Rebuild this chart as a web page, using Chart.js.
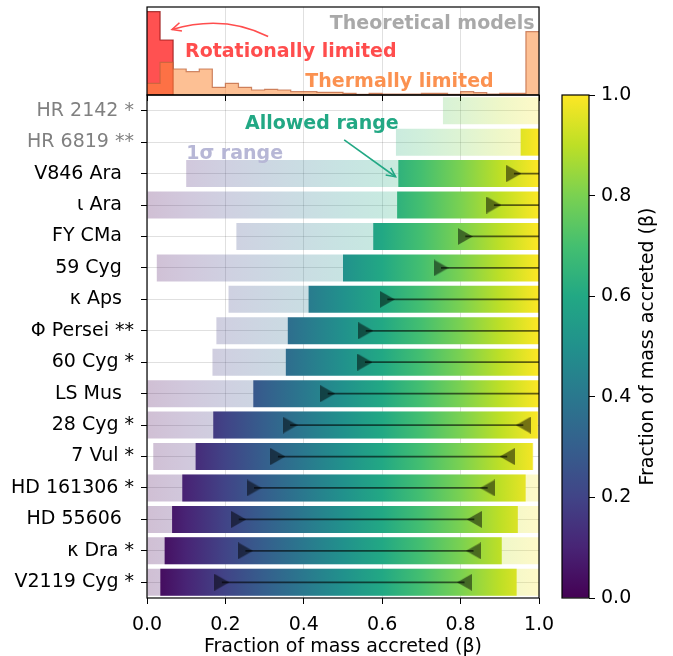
<!DOCTYPE html>
<html>
<head>
<meta charset="utf-8">
<script src="https://cdn.jsdelivr.net/npm/chart.js@4/dist/chart.umd.min.js"></script>
<style>
  body { margin: 0; background: #fff; width: 673px; height: 656px; position: relative; overflow: hidden; }
  canvas { position: absolute; }
</style>
</head>
<body>
<canvas id="histChart" width="560" height="104" style="left:0px;top:0px"></canvas>
<canvas id="rangeChart" width="570" height="587" style="left:0px;top:71px"></canvas>
<canvas id="colorbar" width="133" height="545" style="left:540px;top:75px"></canvas>
<script>
// Theoretical models: 30 equal bins of beta between 0 and 1
const binCount = 30;
const thermalCounts = [11.7, 32.7, 26, 23.3, 26, 7.7, 11.7, 7.7, 5, 5.7, 5, 3.3, 3.3, 2.7, 2.7,
                       1.7, 0.7, 1.7, 1, 1, 1, 1.7, 1.7, 0.7, 3.3, 2.3, 1, 1.7, 1.7, 63.3];
const rotationalCounts = [83.3, 55];

// Stars, top to bottom
const stars = ['HR 2142 *', 'HR 6819 **', 'V846 Ara  ', '\u03b9 Ara  ', 'FY CMa  ', '59 Cyg  ',
               '\u03ba Aps  ', '\u03a6 Persei **', '60 Cyg *', 'LS Mus  ', '28 Cyg *', '7 Vul *',
               'HD 161306 *', 'HD 55606  ', '\u03ba Dra *', 'V2119 Cyg *'];
// 1 sigma range of beta
const sigmaLow  = [0.755, 0.635, 0.100, 0.0, 0.228, 0.025, 0.208, 0.177, 0.167, 0.0, 0.0, 0.016, 0.0, 0.0, 0.0, 0.0];
const sigmaHigh = [1.0, 0.953, 0.641, 0.638, 0.577, 0.500, 0.412, 0.359, 0.354, 0.271, 1.0, 0.986, 1.0, 1.0, 1.0, 1.0];
// allowed range of beta
const allowedLow  = [null, 0.953, 0.641, 0.638, 0.577, 0.500, 0.412, 0.359, 0.354, 0.271, 0.169, 0.124, 0.090, 0.064, 0.045, 0.034];
const allowedHigh = [null, 1.0, 1.0, 1.0, 1.0, 1.0, 1.0, 1.0, 1.0, 1.0, 0.997, 0.984, 0.966, 0.946, 0.905, 0.943];
// best lower / upper limits (null upper = open ended)
const betaLow  = [null, null, 0.936, 0.885, 0.812, 0.750, 0.613, 0.558, 0.556, 0.461, 0.365, 0.334, 0.273, 0.234, 0.251, 0.191];
const betaHigh = [null, null, null, null, null, null, null, null, null, null, 0.960, 0.919, 0.869, 0.835, 0.833, 0.810];

const xTicks = [0, 0.2, 0.4, 0.6, 0.8, 1.0];

const viridis = [[68, 1, 84], [72, 36, 117], [65, 68, 135], [53, 95, 141], [42, 120, 142], [33, 145, 140],
                 [34, 168, 132], [68, 191, 112], [122, 209, 81], [189, 223, 38], [253, 231, 37]];

const FONT = '"DejaVu Sans", sans-serif';
const tickFont = { family: FONT, size: 19 };
const gridColor = 'rgba(0,0,0,0.12)';

function viridisGradient(ctx, scale, alpha, vertical) {
  const p0 = scale.getPixelForValue(0), p1 = scale.getPixelForValue(1);
  const g = vertical ? ctx.createLinearGradient(0, p0, 0, p1) : ctx.createLinearGradient(p0, 0, p1, 0);
  viridis.forEach((c, k) => {
    g.addColorStop(k / (viridis.length - 1), `rgba(${c[0]},${c[1]},${c[2]},${alpha})`);
  });
  return g;
}

// black box round the plot area
const frame = {
  id: 'frame',
  afterDraw(chart) {
    const { ctx, chartArea: a } = chart;
    ctx.save();
    ctx.strokeStyle = '#000';
    ctx.lineWidth = 1.2;
    ctx.strokeRect(a.left, a.top, a.right - a.left, a.bottom - a.top);
    ctx.restore();
  }
};

function drawArrowHead(ctx, x, y, angle, size) {
  ctx.beginPath();
  ctx.moveTo(x - size * Math.cos(angle - 0.45), y - size * Math.sin(angle - 0.45));
  ctx.lineTo(x, y);
  ctx.lineTo(x - size * Math.cos(angle + 0.45), y - size * Math.sin(angle + 0.45));
  ctx.stroke();
}

// text labels and arrows placed in data coordinates
function notes(items) {
  return {
    id: 'notes',
    afterDatasetsDraw(chart) {
      const { ctx, scales } = chart;
      const px = v => scales.x.getPixelForValue(v);
      const py = v => scales.y.getPixelForValue(v);
      ctx.save();
      items.forEach(n => {
        ctx.strokeStyle = n.color;
        ctx.fillStyle = n.color;
        ctx.lineWidth = 1.6;
        if (n.text) {
          ctx.font = `bold 19px ${FONT}`;
          ctx.textAlign = n.align || 'left';
          ctx.textBaseline = 'alphabetic';
          ctx.fillText(n.text, px(n.x), py(n.y));
        } else {
          const x0 = px(n.from[0]), y0 = py(n.from[1]);
          const x1 = px(n.to[0]), y1 = py(n.to[1]);
          ctx.beginPath();
          ctx.moveTo(x0, y0);
          let ax = x0, ay = y0;
          if (n.via) {
            ax = px(n.via[0]); ay = py(n.via[1]);
            ctx.quadraticCurveTo(ax, ay, x1, y1);
          } else {
            ctx.lineTo(x1, y1);
          }
          ctx.stroke();
          drawArrowHead(ctx, x1, y1, Math.atan2(y1 - ay, x1 - ax), 10);
        }
      });
      ctx.restore();
    }
  };
}

// ---- top panel: histograms drawn as stepped outlines ----
function stepPoints(counts, closeAt) {
  const pts = counts.map((c, i) => ({ x: i / binCount, y: c }));
  pts.push({ x: counts.length / binCount, y: closeAt === undefined ? counts[counts.length - 1] : closeAt });
  return pts;
}

new Chart(document.getElementById('histChart'), {
  type: 'line',
  data: {
    datasets: [{
      label: 'Thermally limited',
      data: stepPoints(thermalCounts),
      stepped: true,
      fill: 'origin',
      backgroundColor: 'rgba(252,140,60,0.55)',
      borderColor: 'rgba(190,100,60,0.75)',
      borderWidth: 1.2,
      pointRadius: 0,
      order: 0
    }, {
      label: 'Rotationally limited',
      data: stepPoints(rotationalCounts, 0),
      stepped: true,
      fill: 'origin',
      backgroundColor: 'rgba(255,50,50,0.85)',
      borderColor: 'rgba(150,20,20,0.8)',
      borderWidth: 1.2,
      pointRadius: 0,
      order: 1
    }]
  },
  options: {
    responsive: false,
    animation: false,
    layout: { padding: { left: 147, right: 21, top: 7, bottom: 0 } },
    scales: {
      x: {
        type: 'linear', min: 0, max: 1,
        afterBuildTicks: s => { s.ticks = xTicks.map(v => ({ value: v })); },
        ticks: { display: false },
        grid: { color: gridColor, tickColor: '#000', tickLength: 6 },
        border: { display: false },
        afterFit: s => { s.height = 9; }
      },
      y: { display: false, min: 0, max: 88 }
    },
    plugins: { legend: { display: false }, tooltip: { enabled: false } }
  },
  plugins: [frame, notes([
    { text: 'Theoretical models', x: 0.9885, y: 66.5, color: '#a9a9a9', align: 'right' },
    { text: 'Rotationally limited', x: 0.097, y: 38.5, color: '#ff4d4d' },
    { text: 'Thermally limited', x: 0.404, y: 8.5, color: '#fb9150' },
    { from: [0.309, 58.5], via: [0.196, 81], to: [0.064, 65.5], color: '#ff4d4d' }
  ])]
});

// ---- main panel: beta ranges per star ----
function triangleMarker(dir) {
  const c = document.createElement('canvas');
  c.width = 15; c.height = 17;
  const g = c.getContext('2d');
  g.fillStyle = 'rgba(0,0,0,0.5)';
  g.beginPath();
  if (dir > 0) { g.moveTo(0, 0); g.lineTo(15, 8.5); g.lineTo(0, 17); }
  else { g.moveTo(15, 0); g.lineTo(0, 8.5); g.lineTo(15, 17); }
  g.closePath();
  g.fill();
  return c;
}
const markRight = triangleMarker(1);
const markLeft = triangleMarker(-1);

const limitSets = [];
stars.forEach((name, i) => {
  if (betaLow[i] === null) return;
  const closed = betaHigh[i] !== null;
  limitSets.push({
    type: 'line',
    indexAxis: 'y',
    order: 0,
    data: [{ x: betaLow[i], y: name }, { x: closed ? betaHigh[i] : 1, y: name }],
    borderColor: 'rgba(0,0,0,0.6)',
    borderWidth: 1.8,
    pointStyle: [markRight, markLeft],
    pointRadius: [8, closed ? 8 : 0],
    pointHoverRadius: [8, closed ? 8 : 0]
  });
});

const barCommon = { grouped: false, barPercentage: 0.86, categoryPercentage: 1, borderWidth: 0 };

new Chart(document.getElementById('rangeChart'), {
  type: 'bar',
  data: {
    labels: stars,
    datasets: [
      Object.assign({
        label: '1\u03c3 range',
        data: stars.map((_, i) => [sigmaLow[i], sigmaHigh[i]]),
        backgroundColor: c => c.chart.chartArea ? viridisGradient(c.chart.ctx, c.chart.scales.x, 0.25) : 'transparent',
        order: 2
      }, barCommon),
      Object.assign({
        label: 'Allowed range',
        data: stars.map((_, i) => allowedLow[i] === null ? null : [allowedLow[i], allowedHigh[i]]),
        backgroundColor: c => c.chart.chartArea ? viridisGradient(c.chart.ctx, c.chart.scales.x, 1) : 'transparent',
        order: 1
      }, barCommon),
      ...limitSets
    ]
  },
  options: {
    indexAxis: 'y',
    responsive: false,
    animation: false,
    layout: { padding: { left: 0, right: 31, top: 24, bottom: 0 } },
    scales: {
      x: {
        type: 'linear', min: 0, max: 1,
        afterBuildTicks: s => { s.ticks = xTicks.map(v => ({ value: v })); },
        ticks: { font: tickFont, color: '#000', padding: 10, callback: v => v.toFixed(1) },
        grid: { color: gridColor, tickColor: '#000', tickLength: 6 },
        border: { display: false },
        title: {
          display: true, text: 'Fraction of mass accreted (\u03b2)',
          font: tickFont, color: '#000', padding: { top: 2, bottom: 0 }
        },
        afterFit: s => { s.height = 60; }
      },
      y: {
        type: 'category', offset: true,
        ticks: { font: tickFont, padding: 7, autoSkip: false, color: c => c.index < 2 ? '#808080' : '#000' },
        grid: { offset: false, color: gridColor, tickColor: '#000', tickLength: 6 },
        border: { display: false },
        afterFit: s => { s.width = 147; }
      }
    },
    plugins: { legend: { display: false }, tooltip: { enabled: false } }
  },
  plugins: [frame, notes([
    { text: 'Allowed range', x: 0.250, y: 0.585, color: '#22a884' },
    { text: '1\u03c3 range', x: 0.100, y: 1.532, color: '#b7b7d6' },
    { from: [0.503, 0.93], to: [0.634, 2.1], color: '#22a884' }
  ])]
});

// ---- colour bar ----
const colorbarTitle = {
  id: 'colorbarTitle',
  afterDraw(chart) {
    const { ctx, chartArea: a } = chart;
    ctx.save();
    ctx.translate(a.right + 59, (a.top + a.bottom) / 2);
    ctx.rotate(-Math.PI / 2);
    ctx.font = `19px ${FONT}`;
    ctx.fillStyle = '#000';
    ctx.textAlign = 'center';
    ctx.textBaseline = 'middle';
    ctx.fillText('Fraction of mass accreted (\u03b2)', 0, 0);
    ctx.restore();
  }
};

new Chart(document.getElementById('colorbar'), {
  type: 'bar',
  data: {
    labels: [''],
    datasets: [{
      data: [[0, 1]],
      backgroundColor: c => c.chart.chartArea ? viridisGradient(c.chart.ctx, c.chart.scales.y, 1, true) : 'transparent',
      barPercentage: 1, categoryPercentage: 1, borderWidth: 0
    }]
  },
  options: {
    responsive: false,
    animation: false,
    layout: { padding: { left: 22, right: 0, top: 20, bottom: 22 } },
    scales: {
      x: { display: false },
      y: {
        position: 'right', min: 0, max: 1,
        afterBuildTicks: s => { s.ticks = xTicks.map(v => ({ value: v })); },
        ticks: { font: tickFont, color: '#000', padding: 6, callback: v => v.toFixed(1) },
        grid: { drawOnChartArea: false, tickColor: '#000', tickLength: 6 },
        border: { display: false },
        afterFit: s => { s.width = 84; }
      }
    },
    plugins: { legend: { display: false }, tooltip: { enabled: false } }
  },
  plugins: [frame, colorbarTitle]
});
</script>
</body>
</html>
